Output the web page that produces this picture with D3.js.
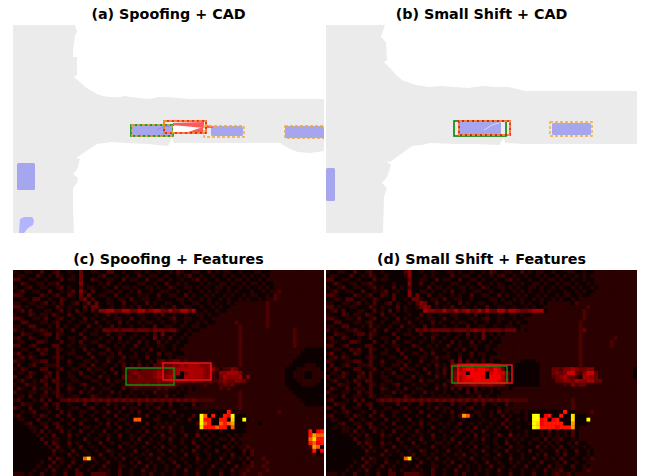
<!DOCTYPE html>
<html>
<head>
<meta charset="utf-8">
<script src="https://cdnjs.cloudflare.com/ajax/libs/d3/7.8.5/d3.min.js"></script>
<style>
  html, body { margin: 0; padding: 0; background: #fff; overflow: hidden; }
  text { font-family: "DejaVu Sans", sans-serif; font-weight: bold; }
</style>
</head>
<body>
<svg id="chart" width="646" height="476">
  <defs><filter id="soft" x="0" y="0" width="100%" height="100%"><feGaussianBlur stdDeviation="0.45"/></filter></defs>
</svg>
<script>
// Panel titles
var titles = ["(a) Spoofing + CAD", "(b) Small Shift + CAD", "(c) Spoofing + Features", "(d) Small Shift + Features"];

// Drivable area outlines (map units)
var roadA = [[0,0],[62,0],[64,7],[62,11],[61,18],[60,25],[60,32],[64,32],[64,42],[64,50],[61,52],[67,57],[72,62],[77,65],[84,69],[90,71],[97,72],[107,72],[112,71],[125,73],[137,74],[146,72],[154,72],[165,73],[177,74],[200,74],[250,74],[311,74],[311,126],[297,128],[285,127],[277,124],[267,118],[215,118],[161,118],[159,113],[155,121],[135,119],[114,118],[99,117],[84,119],[75,125],[63,133],[67,134],[64,145],[60,149],[65,153],[64,158],[60,163],[60,185],[61,208],[0,208]];
var roadB = [[0,0],[59,0],[55,12],[60,17],[61,35],[58,37],[64,43],[70,50],[76,55],[90,60],[103,62],[115,61],[129,62],[142,63],[156,61],[170,62],[183,62],[199,66],[250,66],[311,66],[311,119],[250,119],[199,119],[179,118],[178,113],[173,120],[150,119],[129,119],[104,118],[95,120],[86,121],[75,129],[64,137],[60,136],[65,140],[61,152],[56,158],[61,163],[58,172],[57,208],[0,208]];

// Objects as [x0, y0, x1, y1]
var carsA = [[4,138,22,165],[119,100,159,111],[198,101,230,111],[272,101,311,113]];
var carsB = [[0,143,9,176],[133,97,175,110],[226,98,265,110]];
var blobA = [[7,194],[11,192],[19,192],[21,195],[20,200],[15,203],[11,208],[6,208]];
var dashedA = [[119,100,159,111],[151,96,193,108],[191,101,231,112],[272,101,311,113]];
var dashedB = [[133,96,184,110],[224,97,266,111]];
var greenA = [118,100,160,111], redA = [151,96,193,108];
var greenB = [128,96,180,111], redB = [133,96,184,110];
var greenC = [113,98,161,115], redC = [150,93,198,110];
var greenD = [126,96,181,113], redD = [132,95,186,113];
var voidA = [160,101,190,108];
var wedgesA = [[[160,98],[191,97],[191,103],[160,100]],[[172,108],[190,102],[190,108]],[[193,100],[200,101],[200,103],[193,103]]];
var scratchA = [[144,105],[152,101],[157,102]];
var scratchB = [[158,105],[166,100],[173,98]];

// Colormap position of each hex digit used in the feature rows
var levels = [0.02, 0.06, 0.11, 0.15, 0.19, 0.24, 0.30, 0.35, 0.40, 0.50, 0.60, 0.70, 0.75];

// Feature magnitudes, one string per row, hex digit per cell
var featuresC = [
"1001100200 1200100300 1100220010 0110100100 1021001100 2010110010 0011001111 1111111111",
"0110002001 0210010300 0012001001 0020011001 0010120010 0100101001 0100101111 1111111111",
"2200110010 0020110300 2100110020 1100200110 1001001201 0010010110 1001011111 1111111111",
"0021001101 1200000400 0010200100 0011001002 0010100010 1001101001 0110100111 1111111111",
"1001200110 0120100201 1001002011 0100110100 2100110101 0011010010 1001010111 1111111111",
"0120011002 0010120410 2000110100 1020010011 0010010010 1010010100 0100101121 1111111111",
"2210000210 1200210303 0011002001 0010100200 1100201001 0100101001 0110010211 1111111111",
"0011022001 0021000230 2000100110 2001100100 0011010010 1001010010 1001011211 1111111111",
"1100110120 1020012013 0300110020 0100201001 1001001100 1010010111 1111121111 1111111111",
"2201001100 0210100020 3300010010 1020010010 0200110010 0101001111 1111121111 1111111111",
"0120200011 0020102010 2044553355 3355345533 5335535001 0010011111 1111121111 1111111111",
"1000210110 2100200100 0100201001 0011001020 0100100110 1001111111 1111121111 1111111111",
"2210011020 0120010020 1001001100 2001000100 1200110010 0111111111 1111121111 1111111111",
"0022000110 1200100110 0200100201 0010110010 0100100101 0011111211 1111121111 1111111111",
"1100220001 0201001002 0010020100 1001002001 1001001100 1111111121 1111121111 1111111111",
"2010011210 0120020010 0103323233 3233323332 3310010011 1111111121 1111111111 1121111111",
"0021100122 0210000200 1100200110 0100102030 0100101111 1111111121 1111111111 1121111111",
"1200210010 0200110020 0010010200 1001003010 2001011111 1111111121 1111111111 1121111111",
"0110002210 0020010200 1100100101 0020100201 0010011111 1111111121 1111111111 1121111111",
"2200120000 2200100110 0021001010 0200100110 0100111111 1111111121 1111111111 1121111111",
"0011002120 0210010020 1000200100 1001020010 0101111111 1111111121 1111111111 1111100000",
"1300100210 0200110002 0011010200 0100100201 1000111111 1111111121 1111111111 1111000000",
"0120210000 1210001100 2000110020 1100200100 1011111111 1111111121 1111111111 1110000000",
"2100011220 0200200011 0100200110 0010010231 2331211111 1111111121 1111111111 1100000000",
"0200120011 1200100110 2001001020 1020102233 3445455544 4211111121 1111111111 1000011100",
"1021000220 0120011002 0110020013 3323333433 4555555554 4421224311 1111111111 0001111110",
"0110210012 0200100200 1001002012 3433334543 4550455554 4214455541 1111111111 0011100111",
"2001200021 0200110011 0020100023 3243334544 5500555554 4213544451 4111111111 0011100111",
"0120010210 2200011000 1100201102 3333333433 4344434332 3223433443 1111111111 0001111110",
"1002110020 0210100120 0010010013 3343433433 4321111112 1112323111 1111111111 0000111100",
"0210020111 0200210010 2001100020 1211111212 1101010111 1112121111 1111111111 1000000000",
"2000110020 1200100201 0010020100 1001002011 0010011111 1111111121 1111111111 1100000000",
"0110200110 0210011000 2100100101 0100100102 0100111111 1111111121 1111111111 1110000000",
"1200010202 0022323232 3232323232 3232323232 3232323222 2211111121 1111111111 1111000000",
"0021100020 1200100020 0100201001 0020110010 2001002011 1111111121 1111111111 1111100000",
"2100200110 0200011001 2001001020 1100101200 1000101111 1111111121 1111111111 1111111111",
"0010120001 0020100110 0100200100 1020010011 0200000000 0000080111 1111111121 1111111111",
"1200010210 0200200100 1001002001 0010200100 10010020c9 080087c000 1111111111 1111111111",
"0110002001 0010020010 0200100110 0990001100 00100200c8 800880b00c 0111111111 1111111111",
"0001200110 1200100200 0010201001 0100200101 01000002c9 800989a000 1110111111 1111111111",
"0000110020 0210010011 0100100200 1001001020 20010000b8 8898809000 1111111111 1111111111",
"0000010201 0020100200 1002001001 0010200100 2001000100 1001000000 1111111111 1111118078",
"0000001010 2000201001 0010100200 1001001020 0100200301 0100010101 1111111111 1111118a99",
"0000000200 1100100020 0100200100 1020010010 2001001010 1001102011 1111111111 1111119b88",
"0000000020 2100201001 0020010011 0100200100 1001002001 0010010101 1111111111 1111118978",
"0000000001 0200100200 1001000200 1001001020 0100100200 1000201011 2111111111 1111112a90",
"0000000000 2010020010 0100210010 0200100100 2001002001 0020010002 0211111111 1111111807",
"0000000000 1000201001 0020010100 1001020010 0100200100 1000102001 0211111111 1111111201",
"0000000002 021001009b 2001001020 0100100200 1001000200 1002001010 2011211111 1111111111",
"0000000100 2010020010 0100200100 1020010010 0200100101 0010020001 0211121111 1111111111",
"0000001002 0100200100 1002000110 0100201001 0020010010 0200100201 1211211111 1111111111",
"0000010010 2001002001 0010100200 1002001001 0100200100 1001002011 2111121111 1111111111",
"1110100200 1002002200 2222100200 1001020010 0100100200 1002001012 1112111111 1111111111"
];
var featuresD = [
"1001100200 1200100000 2400100100 0110100100 1021001100 2010110010 0011001001 1111111111",
"0110002001 0210010000 1400010100 0020011001 0010120010 0100101001 0100101011 1111111111",
"2200110010 0020110000 0300110020 1100200110 1001001201 0010010110 1001001001 1111111111",
"0021001101 1200000100 0400200100 0011001002 0010100010 1001101001 0110100101 1111111111",
"1001200110 0120100201 0200002011 0100110100 2100110101 0011010010 1001010010 1111111111",
"0120011002 0010120010 0400110100 1020010011 0010010010 1010010100 0100101001 1111111111",
"2210000210 1200210200 0403002001 0010100200 1100201001 0100101001 0110010011 1111111111",
"0011022001 0021000200 1033100110 2001100100 0011010010 1001010010 1001011111 1111111111",
"1100110120 1020012010 0102430020 0100201001 1001001100 1010010111 1110211111 1111111111",
"2201001100 0210100020 1001343010 1020010010 0200110010 0101001111 1111111211 1111111111",
"0120200011 0020102010 1000054433 5335345335 3533553554 3345550111 1111112111 1111111111",
"1000210110 2100200100 0100201001 0011001020 0100100110 1001111111 1111112111 1111111111",
"2210011020 0120010020 1001001100 2001000100 1200110010 0111111111 1111112111 1111111111",
"0022000110 1200100110 0200100201 0010110010 0100100101 0011111111 1111121111 1111111111",
"1100220001 0201001002 0010020100 1001002001 1001001100 1111111111 1111121111 1111111111",
"2010011210 0120020010 0103232333 3323332343 3233323330 1011111111 1111123111 1111111111",
"0021100122 0210000200 1100200110 0100102010 3010101111 1111111111 1111121111 1111111111",
"1200210010 0200110020 0010010200 1001001010 3001011111 1111111111 1111121111 1111211111",
"0110002210 0020010200 1100100101 0020100201 0010011111 1111111111 1111121111 1112111111",
"2200120000 2200100110 0021001010 0200100110 0100111111 1111111111 1111121111 1112111111",
"0011002120 0210010020 1000200100 1001020010 0101111111 1111111111 1111121111 1111111111",
"1300100210 0200110002 0011010200 0100100201 1000111111 1111111111 1111121111 1111111111",
"0120210000 1210001100 2000110020 1100200100 1011111111 1111111111 1111121111 1111111111",
"2100011220 0200200011 0100200110 0030302010 2010011111 0000111111 1111121111 1111111111",
"0200120011 1200100110 2001001020 1044455655 5654310000 0000011111 1111121111 1111111111",
"1021000220 0120011002 0110020010 2023567767 7657630000 0000011133 2445433441 1111111110",
"0110210012 0200100200 1001002010 2034660777 7067664000 0000011134 3466324663 1111111110",
"2001200021 0200110011 0020100020 1034567777 6077753000 0000011123 4533105543 1111111110",
"0120010210 2200011000 1100201100 0134566677 7777654000 0000011113 3443544553 3111111111",
"1002110020 0210100120 0010010010 2013333443 4443331000 0000011111 1214233111 1111111111",
"0210020111 0200210010 2001100020 1020201020 1010101011 1111111111 1111111111 1111111111",
"2000110020 1200100201 0010020100 1001002011 0010011111 1111111111 1111111111 1111111111",
"0110200110 0210011000 2100100101 0100100102 0100111111 1111111111 1111111111 1111111111",
"1200010202 0002323232 3232323232 3232323232 3232323222 2211111111 1112111111 1111111111",
"0021100020 1200100020 0100201001 0020110010 2001002011 1111111111 1112111111 1111111111",
"2100200110 0200011001 2001001020 1100101200 1000101111 1111111111 1112111111 1111111111",
"0010120001 0020100110 0100200100 1020010011 0010201011 0100000000 0800111121 1111111111",
"1200010210 0200200100 1001002001 00102a9101 0010020100 010cc07800 800b000111 1111111111",
"0110002001 0010020010 0200100110 0010010000 1001002001 010cc78078 000b000c11 1111111111",
"0001200110 1200100200 0010201001 0100200101 0010020100 001cb78888 800a000111 1111111111",
"0010110020 0210010011 0100100200 1001001020 0100102001 000cb88887 888a011111 1111111111",
"0000110201 0020100200 1002001001 0010200100 2001000100 0100010201 0102011111 1111111111",
"0000001010 2000201001 0010100200 1001001020 0100200301 0100010101 0102011111 1111111111",
"0000000200 1100100020 0100200100 1020010010 2001001010 1001102011 2001011111 1111111111",
"0000000020 2100201001 0020010011 0100200100 1001002001 0010010101 0010200111 1111111111",
"0000000001 0200100200 1001000200 1001001020 0100100200 1000201010 2001001011 1111111111",
"0000000000 2010020010 0100210010 0200100100 2001002001 0020010002 0100200101 1111111111",
"0000000000 1000201001 0020010100 1001020010 0100200100 1000102001 0200100101 1111111111",
"0000000002 0210010000 9b01001020 0100100200 1001000200 1002001010 2001001021 1111111111",
"0000000100 2010020010 0100200100 1020010010 0200100101 0010020001 0200100111 1111111111",
"0000001002 0100200100 1002000110 0100201001 0020010010 0200100201 1002001011 1111111111",
"0000010010 2001002001 0010100200 1002001001 0100200100 1001002011 2001001211 1111111111",
"1110100200 1002002200 2222100200 1001020010 0100100200 1002001012 1120111111 1111111111"
];

var svg = d3.select("#chart");
var panelW = 311, panelH = 208;
var x = d3.scaleLinear().domain([0, 311]).range([0, panelW]);
var y = d3.scaleLinear().domain([0, 208]).range([0, panelH]);
var line = d3.line().x(d => x(d[0])).y(d => y(d[1])).curve(d3.curveLinearClosed);
var openLine = d3.line().x(d => x(d[0])).y(d => y(d[1]));

// Same shape as matplotlib's "hot" colormap
function hot(t) {
    var r = Math.min(1, t / 0.365);
    var g = Math.max(0, Math.min(1, (t - 0.365) / 0.38));
    var b = Math.max(0, Math.min(1, (t - 0.746) / 0.254));
    return d3.rgb(r * 255, g * 255, b * 255);
}
var color = d3.scaleSequential(hot).domain([0, 1]);

function addRect(g, b, cls) {
    return g.append("rect")
        .attr("class", cls)
        .attr("x", x(b[0]))
        .attr("y", y(b[1]))
        .attr("width", x(b[2]) - x(b[0]))
        .attr("height", y(b[3]) - y(b[1]))
        .style("fill", "none");
}

function addPanel(px, py, title, titleY, id) {
    var clip = svg.append("clipPath").attr("id", "clip" + id);
    clip.append("rect").attr("width", panelW).attr("height", panelH);
    var g = svg.append("g")
        .attr("transform", "translate(" + px + "," + py + ")")
        .attr("clip-path", "url(#clip" + id + ")")
        .append("g")
        .attr("filter", "url(#soft)");
    svg.append("text")
        .attr("x", px + panelW / 2)
        .attr("y", titleY)
        .style("text-anchor", "middle")
        .style("font-size", "14.3px")
        .style("fill", "#000")
        .text(title);
    return g;
}

function drawMap(g, road, cars, dashed, green, red) {
    g.append("rect").attr("width", panelW).attr("height", panelH).style("fill", "#fff");
    g.append("path").attr("d", line(road)).style("fill", "#ebebeb");
    g.selectAll(".car")
        .data(cars)
        .enter().append("rect")
        .attr("class", "car")
        .attr("x", d => x(d[0]))
        .attr("y", d => y(d[1]))
        .attr("width", d => x(d[2]) - x(d[0]))
        .attr("height", d => y(d[3]) - y(d[1]))
        .attr("rx", 1.5)
        .style("fill", "#a6a6ef");
    addRect(g, green, "gt").style("stroke", "#118a11").style("stroke-width", 1.7);
    addRect(g, red, "pred").style("stroke", "#f01010").style("stroke-width", 1.7);
    g.selectAll(".dash")
        .data(dashed)
        .enter().append("rect")
        .attr("class", "dash")
        .attr("x", d => x(d[0]))
        .attr("y", d => y(d[1]))
        .attr("width", d => x(d[2]) - x(d[0]))
        .attr("height", d => y(d[3]) - y(d[1]))
        .style("fill", "none")
        .style("stroke", "#f5a833")
        .style("stroke-width", 1.4)
        .style("stroke-dasharray", "3 2");
}

function drawFeatures(g, rows, green, red) {
    var cells = [];
    rows.forEach(function(row, r) {
        row.replace(/ /g, "").split("").forEach(function(c, k) {
            cells.push({ row: r, col: k, value: levels[parseInt(c, 16)] });
        });
    });
    var colScale = d3.scaleBand().domain(d3.range(80)).range([0, panelW]);
    var rowScale = d3.scaleBand().domain(d3.range(54)).range([0, colScale.bandwidth() * 54]);

    g.append("rect").attr("width", panelW).attr("height", panelH).style("fill", color(levels[1]));
    g.selectAll(".cell")
        .data(cells)
        .enter().append("rect")
        .attr("class", "cell")
        .attr("x", d => colScale(d.col))
        .attr("y", d => rowScale(d.row))
        .attr("width", colScale.bandwidth() + 0.3)
        .attr("height", rowScale.bandwidth() + 0.3)
        .style("fill", d => color(d.value));
    addRect(g, green, "gt").style("stroke", "#0f8a0f").style("stroke-width", 1.5);
    addRect(g, red, "pred").style("stroke", "#f01010").style("stroke-width", 1.5);
}

var panelA = addPanel(13, 25, titles[0], 19, "a");
drawMap(panelA, roadA, carsA, dashedA, greenA, redA);
panelA.append("path").attr("d", line(blobA)).style("fill", "#b3b3ff");
addRect(panelA, voidA, "void").style("fill", "#fff");
panelA.selectAll(".wedge")
    .data(wedgesA)
    .enter().append("path")
    .attr("class", "wedge")
    .attr("d", d => line(d))
    .style("fill", "#ff5a5a");
panelA.append("path").attr("d", openLine(scratchA))
    .style("fill", "none").style("stroke", "#8a8af0").style("stroke-width", 1);
panelA.select(".pred").raise();
panelA.selectAll(".dash").raise();

var panelB = addPanel(326, 25, titles[1], 19, "b");
drawMap(panelB, roadB, carsB, dashedB, greenB, redB);
panelB.append("path").attr("d", openLine(scratchB))
    .style("fill", "none").style("stroke", "#d6d6f6").style("stroke-width", 1);
panelB.select(".gt").raise();
panelB.select(".pred").raise();
panelB.selectAll(".dash").raise();

var panelC = addPanel(13, 270, titles[2], 264, "c");
drawFeatures(panelC, featuresC, greenC, redC);

var panelD = addPanel(326, 270, titles[3], 264, "d");
drawFeatures(panelD, featuresD, greenD, redD);
</script>
</body>
</html>
